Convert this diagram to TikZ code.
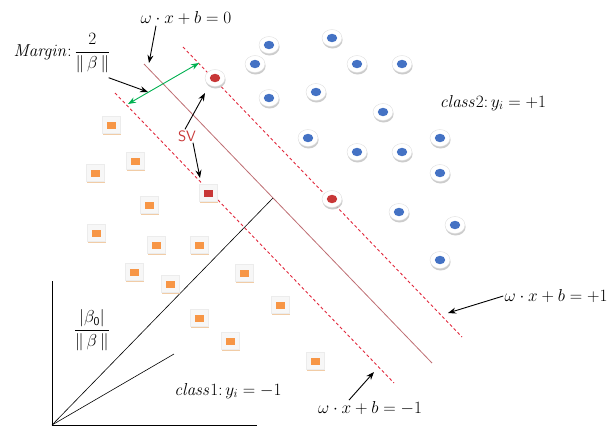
\documentclass[tikz,border=0pt]{standalone}
\usepackage{amsmath}
\usetikzlibrary{arrows.meta,shapes.geometric,shadows}
\definecolor{dotblue}{RGB}{68,114,196}
\definecolor{sqorange}{RGB}{247,150,70}
\definecolor{svred}{RGB}{200,55,55}
\definecolor{hyper}{RGB}{190,110,115}
\definecolor{dashred}{RGB}{225,40,60}
\definecolor{mgreen}{RGB}{0,176,80}
\begin{document}
\begin{tikzpicture}[x=1pt,y=-1pt,
  lbl/.style={font=\fontsize{17}{20}\selectfont, inner sep=1pt},
  arr/.style={-{Stealth[length=8pt,width=6pt]}, line width=0.9pt, black},
  bdot/.style={ellipse, minimum width=20pt, minimum height=17pt, inner sep=0pt,
    fill=white, draw=gray!25, line width=0.4pt,
    drop shadow={shadow xshift=0.6pt, shadow yshift=-2pt, fill=gray!50, opacity=0.8},
    path picture={\fill[#1] (path picture bounding box.center) ellipse (5.2pt and 4.2pt);}},
  bdot/.default=dotblue,
  osq/.style={rectangle, minimum width=18pt, minimum height=17pt, inner sep=0pt,
    fill=gray!6, draw=gray!15, line width=0.3pt,
    drop shadow={shadow xshift=1pt, shadow yshift=-1.8pt, fill=brown!55!orange!45, opacity=0.9},
    path picture={\fill[#1] ([xshift=-4.5pt,yshift=-3.5pt]path picture bounding box.center) rectangle ++(9pt,7pt);}},
  osq/.default=sqorange,
  hline/.style={hyper, line width=0.8pt},
  dline/.style={dashred, line width=0.9pt, dash pattern=on 3pt off 2.5pt},
]
\useasboundingbox (0,0) rectangle (611,429);

% hyperplanes
\coordinate (h0a) at (144,64);  \coordinate (h0b) at (432,363);
\coordinate (hpa) at (183,47);  \coordinate (hpb) at (462,337);
\coordinate (hma) at (115,93);  \coordinate (hmb) at (394,383);
\draw[hline] (h0a) -- (h0b);
\draw[dline] (hpa) -- (hpb);
\draw[dline] (hma) -- (hmb);

% axes
\coordinate (o) at (52,425);
\coordinate (yax) at (52,281);
\coordinate (xax) at (257,425);
\coordinate (pend) at (273,198);
\coordinate (qend) at (174,354);
\draw[line width=0.8pt] (yax) -- (o) -- (xax);
\draw[line width=0.6pt] (o) -- (pend);
\draw[line width=0.6pt] (o) -- (qend);

% class 2 points
\foreach \n/\x/\y in {b1/332/38, b2/357/64, b3/402/64, b4/316/92, b5/383/112,
  b6/308/138, b7/357/152, b8/402/152, b9/440/138, b10/440/173,
  b11/269/45, b12/255/64, b13/269/98, b14/399/212, b15/455/225, b16/440/260}
  \node[bdot] (\n) at (\x,\y) {};
\node[bdot=svred] (sv1) at (215,78) {};
\node[bdot=svred] (sv2) at (332,199) {};

% class 1 points
\foreach \n/\x/\y in {s1/111/125, s2/135/161, s3/95/173, s4/149/205, s5/96/233,
  s6/156/245, s7/199/245, s8/134/272, s9/170/284, s10/199/318, s11/244/273,
  s12/280/305, s13/230/341, s14/315/361}
  \node[osq] (\n) at (\x,\y) {};
\node[osq=svred] (sv3) at (208,193) {};

% labels
\node[lbl] (eq0) at (186,18) {$\omega\cdot x+b=0$};
\node[lbl] (margin) at (62,53) {$\mathit{Margin}$:\,$\dfrac{2}{\|\,\beta\,\|}$};
\node[lbl] (class2) at (493,103) {$\mathit{class}2$:\,$y_i=+1$};
\node[lbl] (eqp1) at (556,296) {$\omega\cdot x+b=+1$};
\node[lbl] (eqm1) at (370,408) {$\omega\cdot x+b=-1$};
\node[lbl] (class1) at (228,391) {$\mathit{class}1$:\,$y_i=-1$};
\node[lbl, font=\sffamily\fontsize{17}{20}\selectfont] (bfrac) at (92,330)
  {$\dfrac{|\mathsf{\beta_0}|}{\|\,\beta\,\|}$};
\node[lbl, text=svred, font=\sffamily\fontsize{15}{18}\selectfont] (sv) at (187,136) {SV};

% margin arrow
\coordinate (ga) at (128,104);
\coordinate (gb) at (199,63);
\draw[mgreen, line width=0.9pt, {Stealth[length=8pt,width=6pt]}-{Stealth[length=8pt,width=6pt]}] (ga) -- (gb);

% pointer arrows
\coordinate (t0) at (149,63);
\coordinate (tm) at (148,92);
\coordinate (tsv1) at (205,93);
\coordinate (tsv2) at (200,178);
\coordinate (tp) at (448,313);
\coordinate (tn) at (374,372);
\draw[arr] ([xshift=-30pt]eq0.south) -- (t0);
\draw[arr] ([xshift=-3pt,yshift=-4pt]margin.south east) -- (tm);
\draw[arr] ([xshift=-2pt]sv.north) -- (tsv1);
\draw[arr] ([xshift=6pt]sv.south) -- (tsv2);
\draw[arr] (eqp1.west) -- (tp);
\draw[arr] ([xshift=-21pt]eqm1.north) -- (tn);
\end{tikzpicture}
\end{document}
